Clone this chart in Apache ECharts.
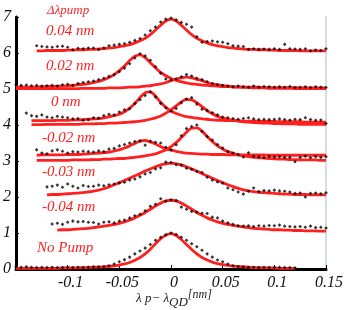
<!DOCTYPE html>
<html><head><meta charset="utf-8">
<script src="https://cdn.jsdelivr.net/npm/echarts@6/dist/echarts.min.js"></script>
<style>html,body{margin:0;padding:0;background:#fff}#c{width:346px;height:310px}</style>
</head><body><div id="c"></div>
<script>
// shared x grid (nm)
const xs = [-0.15,-0.145,-0.14,-0.135,-0.13,-0.125,-0.12,-0.115,-0.11,-0.105,-0.1,-0.095,-0.09,-0.085,-0.08,-0.075,-0.07,-0.065,-0.06,-0.055,-0.05,-0.045,-0.04,-0.035,-0.03,-0.025,-0.02,-0.015,-0.01,-0.005,0,0.005,0.01,0.015,0.02,0.025,0.03,0.035,0.04,0.045,0.05,0.055,0.06,0.065,0.07,0.075,0.08,0.085,0.09,0.095,0.1,0.105,0.11,0.115,0.12,0.125,0.13,0.135,0.14,0.145,0.15];

const traceLabels = ["No Pump","-0.04 nm","-0.03 nm","-0.02 nm","0 nm","0.02 nm","0.04 nm"];
const headerLabel = "Δλpump";
const yTicks = [0,1,2,3,4,5,6,7];
const xTicks = [-0.15,-0.1,-0.05,0,0.05,0.1,0.15];

// measured points (offset traces)
const dotsNoPump = [0.06,0.05,0.06,0.05,0.04,0.05,0.04,0.05,0.04,0.04,
 0.05,0.04,0.05,0.04,0.05,0.06,0.06,0.07,0.09,0.14,
 0.2,0.26,0.33,0.42,0.5,0.58,0.68,0.8,0.88,0.95,
 1.0,0.96,0.88,0.8,0.7,0.62,0.52,0.42,0.33,0.25,
 0.2,0.14,0.09,0.07,0.06,0.05,0.05,0.04,0.05,0.04,
 0.04,0.05,0.04,0.04,0.03,null,null,null,null,null,null];
const dotsM004 = [null,null,null,null,null,null,null,
 1.25,1.27,1.24,1.3,1.33,1.31,1.32,1.3,1.29,1.25,
 1.3,1.31,1.28,1.33,1.36,1.42,1.48,1.52,1.62,1.74,
 1.8,1.95,1.88,1.92,1.9,1.72,1.66,1.6,1.58,1.55,
 1.54,1.44,1.42,1.33,1.28,1.24,1.2,1.19,1.2,1.18,
 1.2,1.19,1.21,1.2,1.22,1.19,1.18,1.17,1.18,1.16,
 1.19,1.15,1.16,1.14];
const dotsM003 = [null,null,null,null,null,null,
 2.28,2.3,2.33,2.27,2.36,2.3,2.25,2.32,2.29,2.3,
 2.33,2.31,2.34,2.36,2.39,2.41,2.47,2.5,2.56,2.64,
 2.68,2.78,2.81,2.97,2.96,2.9,2.88,2.8,2.77,2.71,
 2.68,2.55,2.47,2.42,2.38,2.25,2.2,2.14,2.08,2.16,
 2.25,2.15,2.18,2.17,2.19,2.17,2.16,2.14,2.1,2.11,
 2.0,2.1,2.11,2.09,2.12];
const dotsM002 = [null,null,null,null,
 3.31,3.22,3.2,3.28,3.31,3.27,3.22,3.26,3.25,3.27,
 3.26,3.25,3.28,3.26,3.33,3.35,3.42,3.46,3.5,3.54,
 3.56,3.44,3.55,3.52,3.5,3.38,3.31,3.45,3.7,3.9,
 3.96,4.0,3.82,3.68,3.58,3.46,3.36,3.26,3.22,3.18,
 3.11,3.23,3.13,3.12,3.1,3.13,3.11,3.12,3.1,3.1,
 2.98,3.1,3.13,3.09,3.12,3.1,3.12];
const dots0 = [null,null,
 4.33,4.26,4.24,4.28,4.22,4.2,4.24,4.22,4.2,4.17,
 4.18,4.13,4.15,4.2,4.19,4.26,4.3,4.28,4.36,4.42,
 4.45,4.6,4.7,4.82,4.92,4.78,4.6,4.48,4.38,4.46,
 4.62,4.72,4.76,4.58,4.44,4.4,4.34,4.28,4.22,4.2,
 4.18,4.16,4.18,4.2,4.17,4.15,4.16,4.15,4.16,4.17,
 4.15,4.14,4.16,4.15,4.2,4.15,4.13,4.14,4.04];
const dots002 = [5.12,5.1,5.11,5.09,5.1,5.08,5.09,5.1,5.08,5.12,
 5.13,5.1,5.15,5.18,5.2,5.22,5.26,5.3,5.35,5.4,
 5.48,5.58,5.7,5.86,5.98,5.92,5.8,5.62,5.44,5.28,
 5.25,5.28,5.34,5.4,5.36,5.3,5.26,5.2,5.15,5.12,
 5.1,5.08,5.06,5.08,5.06,5.05,5.08,5.05,5.07,5.06,
 5.05,5.06,5.05,5.07,5.04,5.05,5.06,5.04,5.06,5.05,
 5.04];
const dots004 = [null,null,null,null,
 6.2,6.18,6.17,6.16,6.18,6.19,6.16,6.09,6.13,6.12,
 6.14,6.14,6.1,6.14,6.2,6.22,6.24,6.26,6.3,6.35,
 6.4,6.5,6.62,6.72,6.86,6.94,6.97,6.92,6.85,6.8,
 6.72,6.45,6.3,6.32,6.33,6.31,6.3,6.26,6.2,6.19,
 6.18,6.1,6.12,6.1,6.11,6.1,6.12,6.1,6.24,6.12,
 6.11,6.1,6.12,6.06,6.08,6.07,6.12];

// fitted curves
const fitNoPump = [0.02,0.02,0.02,0.02,0.02,0.02,0.02,0.02,0.02,0.03,
 0.03,0.03,0.03,0.04,0.04,0.05,0.05,0.06,0.07,0.09,
 0.11,0.14,0.18,0.24,0.32,0.42,0.55,0.7,0.84,0.94,
 0.98,0.93,0.82,0.68,0.54,0.42,0.32,0.25,0.19,0.15,
 0.12,0.1,0.08,0.07,0.06,0.05,0.04,0.04,0.03,0.03,
 0.03,0.02,0.02,0.02,0.02,null,null,null,null,null,null];
const fitM004 = [null,null,null,null,null,null,null,null,
 1.08,1.09,1.09,1.1,1.11,1.12,1.13,1.15,1.17,1.19,
 1.21,1.24,1.27,1.31,1.36,1.42,1.49,1.57,1.66,1.75,
 1.83,1.89,1.91,1.89,1.83,1.75,1.66,1.57,1.49,1.42,
 1.36,1.31,1.27,1.24,1.21,1.19,1.17,1.15,1.13,1.12,
 1.11,1.1,1.09,1.09,1.08,1.08,1.07,1.07,1.06,1.06,
 1.06,1.05,1.05];
const fitM003 = [null,null,null,null,null,null,
 2.06,2.07,2.07,2.08,2.09,2.1,2.11,2.12,2.14,2.16,
 2.19,2.23,2.28,2.34,2.4,2.46,2.52,2.59,2.65,2.72,
 2.78,2.84,2.89,2.92,2.94,2.92,2.89,2.84,2.78,2.72,
 2.65,2.59,2.52,2.46,2.4,2.34,2.29,2.24,2.2,2.17,
 2.15,2.13,2.12,2.11,2.1,2.09,2.08,2.08,2.07,2.07,
 2.07,2.06,2.06,2.06,2.06];
const fitM002a = [null,null,null,null,
 3.16,3.17,3.17,3.17,3.17,3.17,3.18,3.18,3.18,3.19,
 3.2,3.21,3.22,3.23,3.25,3.28,3.31,3.36,3.42,3.49,
 3.55,3.57,3.53,3.47,3.4,3.34,3.3,3.27,3.24,3.22,
 3.21,3.2,3.19,3.19,3.18,3.18,3.18,3.17,3.17,3.17,
 3.17,3.17,3.17,3.17,3.17,3.16,3.16,3.16,3.16,3.16,
 3.16,3.16,3.16,3.16,3.16,3.16,3.16];
const fitM002b = [null,null,null,null,
 3.02,3.02,3.02,3.02,3.02,3.02,3.02,3.03,3.03,3.03,
 3.03,3.04,3.04,3.05,3.05,3.06,3.07,3.07,3.09,3.1,
 3.12,3.14,3.17,3.2,3.25,3.31,3.4,3.51,3.65,3.8,
 3.91,3.92,3.83,3.68,3.54,3.42,3.33,3.26,3.21,3.17,
 3.14,3.12,3.1,3.09,3.08,3.07,3.06,3.05,3.05,3.04,
 3.04,3.03,3.03,3.03,3.03,3.02,3.02];
const fit0a = [null,null,null,
 4.12,4.12,4.12,4.12,4.12,4.13,4.13,4.13,4.14,4.14,
 4.15,4.16,4.17,4.18,4.2,4.23,4.26,4.3,4.37,4.47,
 4.6,4.76,4.9,4.92,4.8,4.63,4.49,4.39,4.32,4.27,
 4.23,4.21,4.19,4.17,4.16,4.14,4.13,4.13,4.12,4.12,
 4.12,4.11,4.11,4.11,4.1,4.1,4.1,4.1,4.09,4.09,
 4.09,4.09,4.09,4.08,4.08,4.08,4.08,4.08];
const fit0b = [null,null,null,
 4.01,4.01,4.01,4.02,4.02,4.02,4.02,4.02,4.02,4.02,
 4.03,4.03,4.03,4.04,4.04,4.05,4.05,4.06,4.07,4.08,
 4.09,4.11,4.13,4.16,4.2,4.25,4.33,4.42,4.53,4.64,
 4.71,4.7,4.62,4.51,4.4,4.31,4.24,4.19,4.16,4.13,
 4.11,4.09,4.08,4.07,4.06,4.05,4.05,4.04,4.04,4.03,
 4.03,4.03,4.02,4.02,4.02,4.02,4.02,4.02];
const fit002a = [5.05,5.05,5.05,5.05,5.06,5.06,5.07,5.07,5.08,5.08,
 5.09,5.1,5.12,5.13,5.15,5.18,5.21,5.26,5.32,5.4,
 5.51,5.64,5.79,5.91,5.95,5.87,5.73,5.59,5.46,5.37,
 5.29,5.24,5.2,5.17,5.14,5.13,5.11,5.1,5.09,5.08,
 5.07,5.07,5.06,5.06,5.05,5.05,5.05,5.05,5.04,5.04,
 5.04,5.04,5.04,5.04,5.04,5.03,5.03,5.03,5.03,5.03,
 5.03];
const fit002b = [5.01,5.01,5.01,5.01,5.01,5.01,5.01,5.01,5.01,5.01,
 5.01,5.01,5.01,5.02,5.02,5.02,5.02,5.02,5.03,5.03,
 5.03,5.04,5.05,5.05,5.06,5.08,5.09,5.12,5.14,5.18,
 5.23,5.27,5.31,5.33,5.31,5.27,5.23,5.18,5.14,5.12,
 5.09,5.08,5.06,5.05,5.05,5.04,5.03,5.03,5.03,5.02,
 5.02,5.02,5.02,5.02,5.01,5.01,5.01,5.01,5.01,5.01,
 5.01];
const fit004 = [null,null,null,null,
 6.06,6.06,6.07,6.07,6.07,6.07,6.08,6.08,6.09,6.09,
 6.1,6.1,6.11,6.12,6.14,6.15,6.18,6.2,6.23,6.28,
 6.34,6.41,6.51,6.64,6.77,6.89,6.94,6.89,6.77,6.64,
 6.51,6.41,6.34,6.28,6.23,6.2,6.18,6.15,6.14,6.12,
 6.11,6.1,6.1,6.09,6.09,6.08,6.08,6.07,6.07,6.07,
 6.07,6.06,6.06,6.06,6.06,6.06,6.06];

const dotSets = [dotsNoPump, dotsM004, dotsM003, dotsM002, dots0, dots002, dots004];
const fitSets = [fitNoPump, fitM004, fitM003, fitM002a, fitM002b, fit0a, fit0b, fit002a, fit002b, fit004];

const RED = '#ff1f1f';
const SERIF = '"Liberation Serif", "DejaVu Serif", serif';

function pairs(ys){ const out=[]; for(let i=0;i<xs.length;i++){ if(ys[i]!==null && ys[i]!==undefined) out.push([xs[i], ys[i]]); } return out; }

const series = [];
fitSets.forEach(function(f){
  series.push({type:'line', data:pairs(f), symbol:'none', smooth:0.3, z:2,
    lineStyle:{color:RED, width:2.8}, silent:true, animation:false});
});
dotSets.forEach(function(d){
  series.push({type:'scatter', data:pairs(d), symbol:'diamond', symbolSize:3.6, z:3,
    itemStyle:{color:'#000'}, silent:true, animation:false});
});

// label placement (pixel) for annotations
const labelPos = [[37,250],[42,209],[42,174],[42,140],[51,104],[46,68],[46,33]];
const graphics = traceLabels.map(function(t,i){
  return {type:'text', left:labelPos[i][0], top:labelPos[i][1]-9, silent:true,
    style:{text:t, font:'italic 15px '+SERIF, fill:RED}};
});
graphics.push({type:'text', left:47, top:4, silent:true, style:{text:headerLabel, font:'italic 13px '+SERIF, fill:RED}});
graphics.push({type:'text', left:136, top:289, silent:true, style:{
  text:'{a|λ p− λ}{b|QD}{c|[nm]}',
  rich:{
    a:{font:'italic 13px '+SERIF, fill:'#222', lineHeight:20, verticalAlign:'middle'},
    b:{font:'italic 13px '+SERIF, fill:'#222', lineHeight:20, verticalAlign:'bottom'},
    c:{font:'italic 12px '+SERIF, fill:'#222', lineHeight:20, verticalAlign:'top'}
  }}});

const chart = echarts.init(document.getElementById('c'), null, {renderer:'canvas'});
chart.setOption({
  animation:false,
  grid:{left:13, right:13, top:17, bottom:41, containLabel:false},
  xAxis:{type:'value', min:xTicks[0], max:xTicks[xTicks.length-1], interval:0.05,
    axisLine:{show:true, onZero:false, lineStyle:{color:'#000', width:3}},
    axisTick:{show:true, inside:true, length:4, lineStyle:{color:'#000'}},
    axisLabel:{margin:6, color:'#111', fontFamily:SERIF, fontStyle:'italic', fontSize:16, padding:[0,0,0,6],
      formatter:function(v){ return v===xTicks[0] ? '' : String(+v.toFixed(2)); }},
    splitLine:{show:false}},
  yAxis:[{type:'value', min:yTicks[0], max:yTicks[yTicks.length-1], interval:1,
    axisLine:{show:true, onZero:false, lineStyle:{color:'#000', width:3}},
    axisTick:{show:true, inside:true, length:3, lineStyle:{color:'#000'}},
    axisLabel:{margin:5, color:'#111', fontFamily:SERIF, fontStyle:'italic', fontSize:16},
    splitLine:{show:false}},
   {type:'value', position:'right', min:yTicks[0], max:yTicks[yTicks.length-1], interval:1,
    axisLine:{show:true, onZero:false, lineStyle:{color:'#c9d3dd', width:1.5}},
    axisTick:{show:false}, axisLabel:{show:false}, splitLine:{show:false}}],
  graphic:graphics,
  series:series
});
</script></body></html>
